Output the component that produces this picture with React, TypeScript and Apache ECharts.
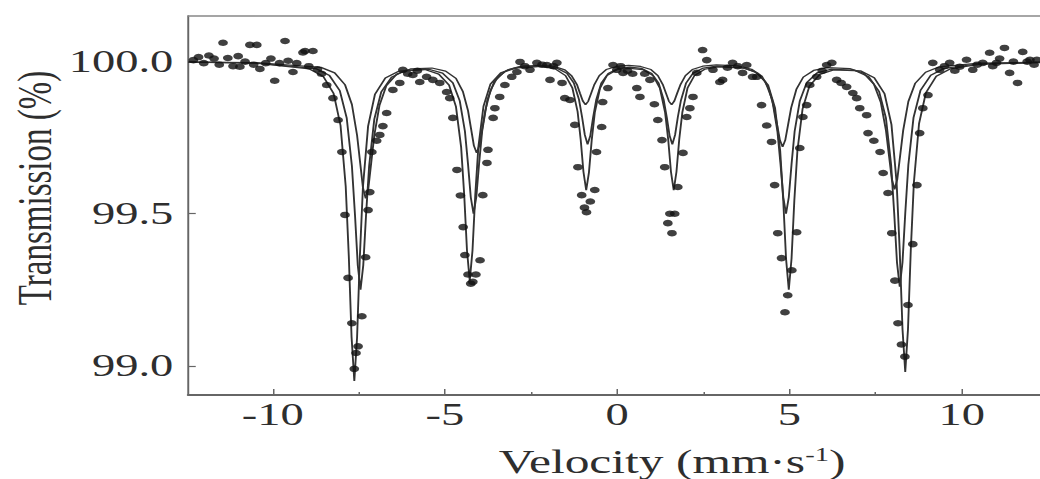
import React, { useEffect, useRef } from "react";
import * as echarts from "echarts";

// ---- axis ticks / labels ----
const xTickValues = [-10, -5, 0, 5, 10];
const xMinorTickValues = [-7.5, -2.5, 2.5, 7.5];
const yTickValues = [99.0, 99.5, 100.0];
const xTitle = "Velocity (mm·s{sup|-1})";
const yTitle = "Transmission (%)";

// ---- measured points [velocity mm/s, transmission %] ----
const measuredPoints: [number, number][] = [
  [-12.3, 100.005], [-12.15, 100.015], [-12.0, 99.995], [-11.85, 100.02], [-11.7, 100.01],
  [-11.55, 99.99], [-11.44, 100.062], [-11.3, 100.012], [-11.15, 99.985], [-11.0, 100.018],
  [-10.95, 99.983], [-10.8, 100.0], [-10.66, 100.055], [-10.55, 99.99], [-10.46, 100.055],
  [-10.37, 99.976], [-10.2, 99.995], [-10.05, 100.01], [-9.94, 99.937], [-9.8, 99.995],
  [-9.64, 100.068], [-9.55, 100.003], [-9.41, 99.966], [-9.3, 99.995], [-9.12, 100.03],
  [-9.06, 100.035], [-8.95, 99.985], [-8.83, 100.035], [-8.7, 99.975], [-8.58, 99.96],
  [-8.43, 99.923], [-8.25, 99.88], [-8.1, 99.808], [-7.99, 99.703], [-7.9, 99.496],
  [-7.81, 99.289], [-7.7, 99.14], [-7.63, 98.99], [-7.58, 99.042], [-7.52, 99.064],
  [-7.41, 99.163], [-7.3, 99.357], [-7.23, 99.512], [-7.18, 99.571], [-7.12, 99.703],
  [-6.98, 99.74], [-6.89, 99.759], [-6.8, 99.788], [-6.69, 99.831], [-6.51, 99.907],
  [-6.31, 99.93], [-6.22, 99.973], [-6.08, 99.96], [-5.93, 99.956], [-5.8, 99.97],
  [-5.73, 99.933], [-5.53, 99.95], [-5.35, 99.94], [-5.15, 99.93], [-4.95, 99.9],
  [-4.86, 99.88], [-4.77, 99.815], [-4.65, 99.644], [-4.55, 99.56], [-4.47, 99.456],
  [-4.42, 99.364], [-4.33, 99.3], [-4.25, 99.27], [-4.19, 99.276], [-4.1, 99.3],
  [-3.98, 99.347], [-3.9, 99.561], [-3.78, 99.667], [-3.75, 99.71], [-3.6, 99.815],
  [-3.55, 99.847], [-3.41, 99.884], [-3.26, 99.923], [-3.06, 99.95], [-2.91, 99.966],
  [-2.82, 99.999], [-2.68, 99.985], [-2.53, 99.973], [-2.33, 99.996], [-2.18, 99.99],
  [-2.04, 99.989], [-1.95, 99.94], [-1.85, 99.985], [-1.75, 99.996], [-1.6, 99.93],
  [-1.52, 99.88], [-1.37, 99.874], [-1.23, 99.792], [-1.14, 99.653], [-1.03, 99.561],
  [-0.95, 99.52], [-0.89, 99.505], [-0.78, 99.54], [-0.65, 99.578], [-0.6, 99.703],
  [-0.45, 99.785], [-0.42, 99.867], [-0.27, 99.913], [-0.12, 99.989], [-0.01, 99.973],
  [0.1, 99.985], [0.17, 99.963], [0.3, 99.97], [0.45, 99.96], [0.57, 99.913],
  [0.66, 99.884], [0.8, 99.96], [0.95, 99.94], [1.08, 99.86], [1.18, 99.808],
  [1.3, 99.742], [1.38, 99.653], [1.47, 99.469], [1.53, 99.5], [1.59, 99.436],
  [1.67, 99.5], [1.76, 99.588], [1.91, 99.7], [2.02, 99.818], [2.11, 99.847],
  [2.2, 99.884], [2.31, 99.963], [2.48, 100.038], [2.6, 100.005], [2.78, 99.973],
  [2.98, 99.933], [3.06, 99.94], [3.2, 99.98], [3.35, 99.996], [3.5, 99.985],
  [3.64, 99.963], [3.76, 99.989], [3.93, 99.95], [4.05, 99.95], [4.19, 99.857],
  [4.34, 99.79], [4.48, 99.736], [4.57, 99.594], [4.66, 99.436], [4.77, 99.354],
  [4.87, 99.176], [4.95, 99.232], [5.07, 99.314], [5.21, 99.439], [5.3, 99.716],
  [5.39, 99.818], [5.5, 99.857], [5.59, 99.923], [5.79, 99.95], [5.95, 99.97],
  [6.08, 99.989], [6.23, 99.996], [6.37, 99.94], [6.5, 99.93], [6.66, 99.917],
  [6.84, 99.897], [6.95, 99.88], [7.04, 99.847], [7.24, 99.824], [7.28, 99.765],
  [7.45, 99.74], [7.63, 99.703], [7.72, 99.634], [7.86, 99.568], [7.97, 99.436],
  [8.06, 99.28], [8.15, 99.14], [8.25, 99.07], [8.35, 99.03], [8.44, 99.2],
  [8.58, 99.4], [8.7, 99.594], [8.78, 99.765], [8.87, 99.847], [9.02, 99.89],
  [9.16, 99.996], [9.36, 99.973], [9.5, 99.985], [9.65, 99.996], [9.8, 99.97],
  [9.94, 99.983], [10.14, 100.006], [10.32, 99.973], [10.45, 99.99], [10.61, 99.996],
  [10.81, 100.029], [10.9, 99.985], [11.01, 99.996], [11.1, 100.01], [11.24, 100.045],
  [11.39, 99.963], [11.5, 100.0], [11.62, 99.93], [11.77, 100.032], [11.9, 100.0],
  [11.98, 100.006], [12.1, 99.99], [12.18, 100.006],
];

// ---- fitted sub-spectra ----
const fitOuter: [number, number][] = [
  [-12.45, 99.998], [-10.5, 99.995], [-8.93, 99.976], [-8.53, 99.951], [-8.23, 99.895],
  [-8.03, 99.79], [-7.88, 99.59], [-7.79, 99.36], [-7.71, 99.095], [-7.63, 98.95],
  [-7.55, 99.093], [-7.47, 99.358], [-7.38, 99.588], [-7.23, 99.788], [-7.03, 99.893],
  [-6.73, 99.946], [-6.33, 99.969], [-5.58, 99.974], [-5.18, 99.959], [-4.88, 99.923],
  [-4.68, 99.852], [-4.53, 99.719], [-4.44, 99.561], [-4.36, 99.379], [-4.28, 99.28],
  [-4.2, 99.379], [-4.12, 99.561], [-4.03, 99.719], [-3.88, 99.854], [-3.68, 99.926],
  [-3.38, 99.963], [-2.98, 99.979], [-2.2, 99.984], [-1.8, 99.976], [-1.5, 99.954],
  [-1.3, 99.913], [-1.15, 99.836], [-1.06, 99.744], [-0.98, 99.638], [-0.9, 99.577],
  [-0.82, 99.636], [-0.74, 99.742], [-0.65, 99.833], [-0.5, 99.912], [-0.3, 99.954],
  [0.0, 99.974], [0.37, 99.978], [0.74, 99.974], [1.04, 99.954], [1.24, 99.912],
  [1.39, 99.833], [1.48, 99.744], [1.56, 99.638], [1.64, 99.577], [1.72, 99.638],
  [1.8, 99.744], [1.89, 99.833], [2.04, 99.913], [2.24, 99.954], [2.54, 99.975],
  [2.94, 99.983], [3.68, 99.979], [4.08, 99.962], [4.38, 99.923], [4.58, 99.848],
  [4.73, 99.707], [4.82, 99.542], [4.9, 99.353], [4.98, 99.25], [5.06, 99.353],
  [5.14, 99.542], [5.23, 99.707], [5.38, 99.845], [5.58, 99.92], [5.88, 99.958],
  [6.28, 99.973], [7.06, 99.97], [7.46, 99.947], [7.76, 99.894], [7.96, 99.793],
  [8.11, 99.602], [8.2, 99.378], [8.28, 99.121], [8.36, 98.98], [8.44, 99.121],
  [8.52, 99.378], [8.61, 99.602], [8.76, 99.796], [8.96, 99.898], [9.26, 99.952],
  [9.66, 99.976], [10.5, 99.991], [12.3, 99.997],
];

const fitMiddle: [number, number][] = [
  [-12.45, 99.998], [-10.5, 99.996], [-8.75, 99.977], [-8.35, 99.954], [-8.05, 99.904],
  [-7.85, 99.814], [-7.7, 99.657], [-7.61, 99.495], [-7.53, 99.331], [-7.45, 99.25],
  [-7.37, 99.331], [-7.29, 99.495], [-7.2, 99.657], [-7.05, 99.811], [-6.85, 99.9],
  [-6.55, 99.949], [-6.15, 99.971], [-5.47, 99.975], [-5.07, 99.962], [-4.77, 99.93],
  [-4.57, 99.871], [-4.42, 99.771], [-4.33, 99.663], [-4.25, 99.554], [-4.17, 99.5],
  [-4.09, 99.554], [-4.01, 99.663], [-3.92, 99.771], [-3.77, 99.874], [-3.57, 99.934],
  [-3.27, 99.967], [-2.87, 99.981], [-2.16, 99.985], [-1.76, 99.979], [-1.46, 99.962],
  [-1.26, 99.93], [-1.11, 99.876], [-1.02, 99.818], [-0.94, 99.759], [-0.86, 99.728],
  [-0.78, 99.757], [-0.7, 99.816], [-0.61, 99.874], [-0.46, 99.93], [-0.26, 99.961],
  [0.04, 99.978], [0.37, 99.982], [0.7, 99.978], [1.0, 99.961], [1.2, 99.93],
  [1.35, 99.874], [1.44, 99.816], [1.52, 99.757], [1.6, 99.728], [1.68, 99.759],
  [1.76, 99.818], [1.85, 99.873], [2.0, 99.93], [2.2, 99.962], [2.5, 99.979],
  [2.9, 99.985], [3.6, 99.981], [4.0, 99.967], [4.3, 99.934], [4.5, 99.874],
  [4.65, 99.771], [4.74, 99.663], [4.82, 99.554], [4.9, 99.5], [4.98, 99.554],
  [5.06, 99.663], [5.15, 99.771], [5.3, 99.871], [5.5, 99.931], [5.8, 99.963],
  [6.2, 99.975], [6.9, 99.971], [7.3, 99.95], [7.6, 99.902], [7.8, 99.814],
  [7.95, 99.661], [8.04, 99.501], [8.12, 99.34], [8.2, 99.26], [8.28, 99.34],
  [8.36, 99.501], [8.45, 99.661], [8.6, 99.816], [8.8, 99.905], [9.1, 99.955],
  [9.5, 99.978], [10.5, 99.993], [12.3, 99.998],
];

const fitInner: [number, number][] = [
  [-12.45, 99.998], [-10.5, 99.997], [-8.6, 99.981], [-8.2, 99.963], [-7.9, 99.924],
  [-7.7, 99.859], [-7.55, 99.758], [-7.46, 99.667], [-7.38, 99.586], [-7.3, 99.55],
  [-7.22, 99.586], [-7.14, 99.667], [-7.05, 99.758], [-6.9, 99.856], [-6.7, 99.921],
  [-6.4, 99.959], [-6.0, 99.976], [-5.38, 99.979], [-4.98, 99.969], [-4.68, 99.945],
  [-4.48, 99.902], [-4.33, 99.839], [-4.24, 99.778], [-4.16, 99.724], [-4.08, 99.7],
  [-4.0, 99.724], [-3.92, 99.778], [-3.83, 99.839], [-3.68, 99.905], [-3.48, 99.948],
  [-3.18, 99.973], [-2.78, 99.985], [-2.22, 99.988], [-1.82, 99.984], [-1.52, 99.973],
  [-1.32, 99.953], [-1.17, 99.925], [-1.08, 99.896], [-1.0, 99.871], [-0.92, 99.858],
  [-0.84, 99.87], [-0.76, 99.895], [-0.67, 99.923], [-0.52, 99.954], [-0.32, 99.974],
  [-0.02, 99.984], [0.33, 99.988], [0.68, 99.984], [0.98, 99.974], [1.18, 99.954],
  [1.33, 99.923], [1.42, 99.895], [1.5, 99.87], [1.58, 99.858], [1.66, 99.871],
  [1.74, 99.896], [1.83, 99.923], [1.98, 99.954], [2.18, 99.974], [2.48, 99.985],
  [2.88, 99.989], [3.5, 99.986], [3.9, 99.975], [4.2, 99.952], [4.4, 99.911],
  [4.55, 99.849], [4.64, 99.793], [4.72, 99.743], [4.8, 99.72], [4.88, 99.743],
  [4.96, 99.793], [5.05, 99.849], [5.2, 99.909], [5.4, 99.949], [5.7, 99.971],
  [6.1, 99.98], [6.75, 99.977], [7.15, 99.962], [7.45, 99.926], [7.65, 99.866],
  [7.8, 99.774], [7.89, 99.689], [7.97, 99.614], [8.05, 99.58], [8.13, 99.614],
  [8.21, 99.689], [8.3, 99.774], [8.45, 99.869], [8.65, 99.929], [8.95, 99.965],
  [9.35, 99.983], [10.5, 99.995], [12.3, 99.998],
];

const fitCurves = [fitOuter, fitMiddle, fitInner];

const FONT = "'Liberation Serif', 'DejaVu Serif', serif";
const X_MIN = -12.45;
const X_MAX = 12.3;
const Y_MIN = 98.904;
const Y_MAX = 100.15;

export default function App() {
  const ref = useRef<HTMLDivElement>(null);

  useEffect(() => {
    const prev = document.body.style.overflow;
    document.body.style.overflow = "hidden";
    const chart = echarts.init(ref.current as HTMLDivElement, null, { renderer: "svg" });

    const axisColor = "#666";
    chart.setOption({
      animation: false,
      backgroundColor: "#ffffff",
      grid: { left: 125.5, right: 0, top: 16, bottom: 84, containLabel: false },
      xAxis: [
        {
          type: "value",
          position: "bottom",
          min: X_MIN,
          max: X_MAX,
          axisLine: { show: true, onZero: false, lineStyle: { color: axisColor, width: 2 } },
          axisTick: {
            show: true,
            inside: true,
            length: 6,
            customValues: xTickValues,
            lineStyle: { color: axisColor, width: 1 },
          },
          axisLabel: {
            show: true,
            customValues: xTickValues,
            margin: 4,
            fontFamily: FONT,
            fontSize: 31,
            color: "#2e2e2e",
          },
          splitLine: { show: false },
        },
        {
          type: "value",
          position: "bottom",
          min: X_MIN,
          max: X_MAX,
          axisLine: { show: false, onZero: false },
          axisTick: {
            show: true,
            inside: true,
            length: 3,
            customValues: xMinorTickValues,
            lineStyle: { color: axisColor, width: 1 },
          },
          axisLabel: { show: false },
          splitLine: { show: false },
        },
        {
          type: "value",
          position: "top",
          min: X_MIN,
          max: X_MAX,
          axisLine: { show: true, onZero: false, lineStyle: { color: "#888", width: 1.5 } },
          axisTick: { show: false },
          axisLabel: { show: false },
          splitLine: { show: false },
        },
      ],
      yAxis: {
        type: "value",
        min: Y_MIN,
        max: Y_MAX,
        axisLine: { show: true, onZero: false, lineStyle: { color: axisColor, width: 1.3 } },
        axisTick: {
          show: true,
          inside: true,
          length: 5,
          customValues: yTickValues,
          lineStyle: { color: axisColor, width: 1.2 },
        },
        axisLabel: {
          show: true,
          customValues: yTickValues,
          formatter: (v: number) => v.toFixed(1),
          margin: 10,
          fontFamily: FONT,
          fontSize: 31,
          color: "#2e2e2e",
        },
        splitLine: { show: false },
      },
      graphic: [
        {
          type: "text",
          x: 448,
          y: 462,
          style: {
            text: xTitle,
            fontFamily: FONT,
            fontSize: 33,
            fill: "#2e2e2e",
            align: "center",
            verticalAlign: "middle",
            rich: {
              sup: { fontFamily: FONT, fontSize: 19, fill: "#2e2e2e", padding: [0, 0, 16, 0] },
            },
          },
        },
        {
          type: "text",
          x: 23,
          y: 188,
          rotation: Math.PI / 2,
          style: {
            text: yTitle,
            fontFamily: FONT,
            fontSize: 33,
            fill: "#2e2e2e",
            align: "center",
            verticalAlign: "middle",
          },
        },
      ],
      series: [
        ...fitCurves.map((curve) => ({
          type: "line",
          data: curve,
          showSymbol: false,
          symbol: "none",
          silent: true,
          z: 2,
          lineStyle: { color: "#333", width: 1.25 },
        })),
        {
          type: "scatter",
          data: measuredPoints,
          symbol: "circle",
          symbolSize: 6.5,
          z: 3,
          itemStyle: { color: "#101010" },
        },
      ],
    });

    return () => {
      chart.dispose();
      document.body.style.overflow = prev;
    };
  }, []);

  return (
    <div
      style={{
        position: "fixed",
        left: 0,
        top: 0,
        width: 1040,
        height: 479,
        overflow: "hidden",
        background: "#fff",
      }}
    >
      <div
        ref={ref}
        style={{ width: 694, height: 479, transform: "scaleX(1.5)", transformOrigin: "0 0" }}
      />
    </div>
  );
}
